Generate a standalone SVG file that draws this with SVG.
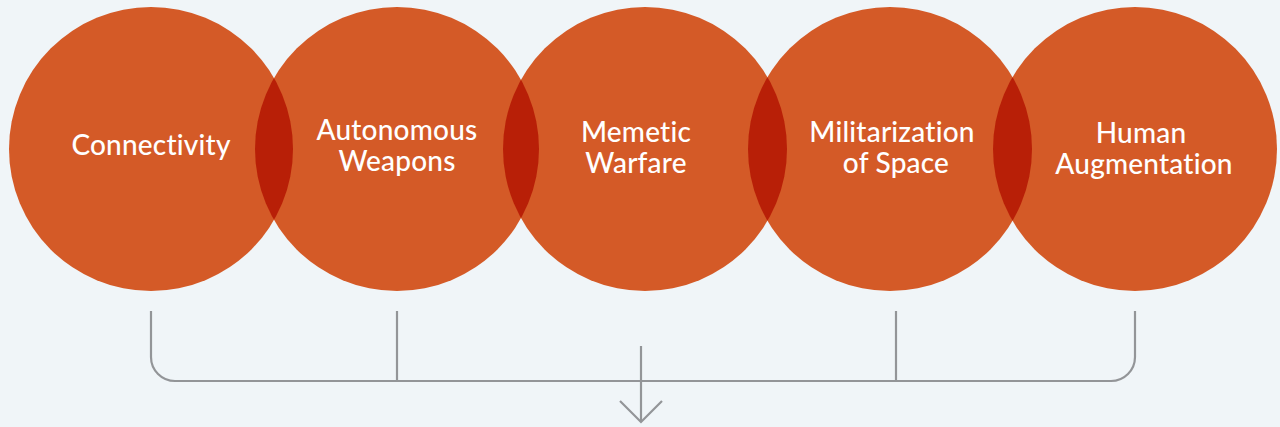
<svg xmlns="http://www.w3.org/2000/svg" width="1280" height="427" viewBox="0 0 1280 427">
  <style>
    .c { fill: #d45a27; }
    .lens { fill: #b81f07; }
    .t { fill: #ffffff; font-family: "Lato", "Liberation Sans", sans-serif; font-size: 28px; font-weight: 500; text-anchor: middle; letter-spacing: 0.2px; }
    .ln { fill: none; stroke: #939598; stroke-width: 2.2; }
  </style>
  <defs>
    <clipPath id="k1"><circle cx="151" cy="149" r="142"/></clipPath>
    <clipPath id="k2"><circle cx="397" cy="149" r="142"/></clipPath>
    <clipPath id="k3"><circle cx="645" cy="149" r="142"/></clipPath>
    <clipPath id="k4"><circle cx="890" cy="149" r="142"/></clipPath>
  </defs>
  <rect width="1280" height="427" fill="#f0f5f8"/>
  <g id="node-connectivity">
    <circle class="c" cx="151" cy="149" r="142"/>
  </g>
  <g id="node-autonomous-weapons">
    <circle class="c" cx="397" cy="149" r="142"/>
  </g>
  <g id="node-memetic-warfare">
    <circle class="c" cx="645" cy="149" r="142"/>
  </g>
  <g id="node-militarization-of-space">
    <circle class="c" cx="890" cy="149" r="142"/>
  </g>
  <g id="node-human-augmentation">
    <circle class="c" cx="1135" cy="149" r="142"/>
  </g>
  <g id="overlaps">
    <circle class="lens" cx="397" cy="149" r="142" clip-path="url(#k1)"/>
    <circle class="lens" cx="645" cy="149" r="142" clip-path="url(#k2)"/>
    <circle class="lens" cx="890" cy="149" r="142" clip-path="url(#k3)"/>
    <circle class="lens" cx="1135" cy="149" r="142" clip-path="url(#k4)"/>
  </g>
  <g id="labels">
    <text class="t" x="151" y="155">Connectivity</text>
    <text class="t" x="397" y="140">Autonomous</text>
    <text class="t" x="397" y="171">Weapons</text>
    <text class="t" x="636" y="142">Memetic</text>
    <text class="t" x="636" y="173">Warfare</text>
    <text class="t" x="892" y="142">Militarization</text>
    <text class="t" x="896" y="173">of Space</text>
    <text class="t" x="1141" y="143">Human</text>
    <text class="t" x="1144" y="174">Augmentation</text>
  </g>
  <g id="connectors">
    <path class="ln" d="M151 311 V357 A24 24 0 0 0 175 381 H1111 A24 24 0 0 0 1135 357 V311"/>
    <path class="ln" d="M397 311 V381"/>
    <path class="ln" d="M896 311 V381"/>
    <path class="ln" d="M641 346 V422"/>
    <path class="ln" d="M620 401 L641 422 L662 401"/>
  </g>
</svg>
